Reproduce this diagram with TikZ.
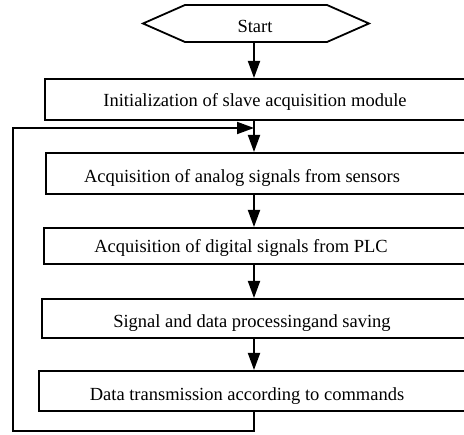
\documentclass[tikz,border=0pt]{standalone}
\usepackage{fontspec}
\setmainfont{Liberation Serif}
\usetikzlibrary{arrows.meta}
\begin{document}
\begin{tikzpicture}[x=1pt,y=-1pt,
  line width=1.8pt,
  stepbox/.style={draw,rectangle,inner sep=0pt,anchor=north west},
  label/.style={font=\fontsize{18.5pt}{20pt}\selectfont,anchor=base,inner sep=0pt},
  flow/.style={-{Triangle[length=17pt,width=12pt]}}]
  \useasboundingbox (0,0) rectangle (464,435);
  \clip (0,0) rectangle (464,435);
  % vertical axis of the flow
  \coordinate (axis) at (254,0);
  % start terminal
  \draw (143,23.5) -- (185,5) -- (327,5) -- (369,23.5) -- (327,42) -- (185,42) -- cycle;
  \node[label] (start) at (255,33) {Start};
  \coordinate (startb) at (254,42);
  % process boxes (right edges lie beyond the frame)
  \node[stepbox,minimum width=446pt,minimum height=41pt] (b1) at (44,78) {};
  \node[stepbox,minimum width=445pt,minimum height=41pt] (b2) at (45,152) {};
  \node[stepbox,minimum width=447pt,minimum height=36pt] (b3) at (43,227) {};
  \node[stepbox,minimum width=449pt,minimum height=39pt] (b4) at (41,298) {};
  \node[stepbox,minimum width=452pt,minimum height=40pt] (b5) at (38,370) {};
  \node[label] (t1) at (255,107) {Initialization of slave acquisition module};
  \node[label] (t2) at (242,183) {Acquisition of analog signals from sensors};
  \node[label] (t3) at (241,253) {Acquisition of digital signals from PLC};
  \node[label] (t4) at (252,328) {Signal and data processingand saving};
  \node[label] (t5) at (247,401) {Data transmission according to commands};
  % connectors
  \draw[flow] (startb) -- (b1.north -| axis);
  \draw[flow] (b1.south -| axis) -- (b2.north -| axis);
  \draw[flow] (b2.south -| axis) -- (b3.north -| axis);
  \draw[flow] (b3.south -| axis) -- (b4.north -| axis);
  \draw[flow] (b4.south -| axis) -- (b5.north -| axis);
  % feedback loop
  \coordinate (loopin) at (254,128);
  \draw[flow] (b5.south -| axis) -- (254,431) -- (13,431) -- (13,128) -- (loopin);
\end{tikzpicture}
\end{document}
